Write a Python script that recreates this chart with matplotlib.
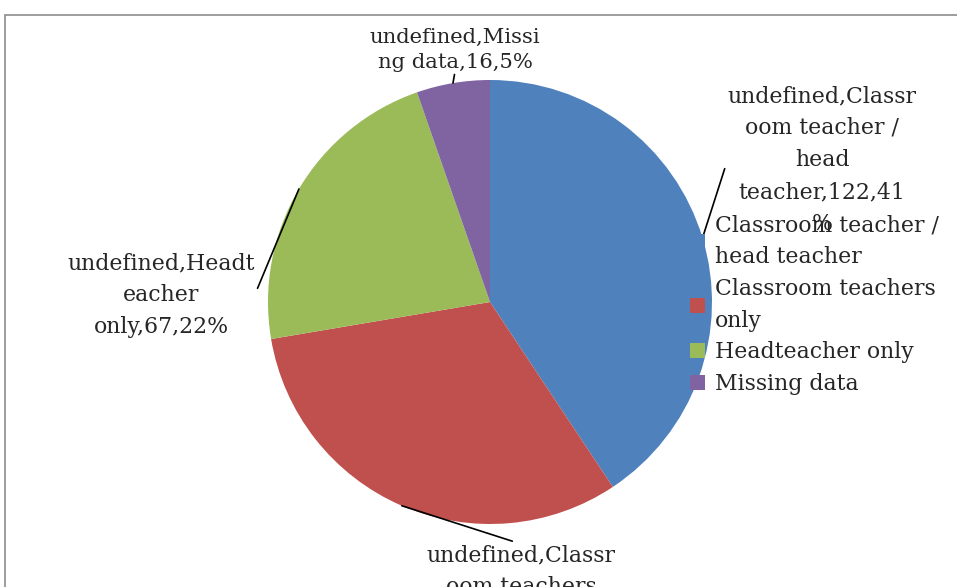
import matplotlib
matplotlib.use("Agg")
import numpy as np
import matplotlib.pyplot as plt
from matplotlib.patches import Rectangle

# Survey responses: who fills in the form
categories = ["Classroom teacher / head teacher", "Classroom teachers only",
              "Headteacher only", "Missing data"]
counts = [122, 95, 67, 16]
series_name = "undefined"
colors = ["#4F81BD", "#C0504D", "#9BBB59", "#8064A2"]

W, H = 957, 587
DPI = 100
FONT = "DejaVu Serif"
FS = 15.8
LS = 1.59

fig = plt.figure(figsize=(W / DPI, H / DPI), dpi=DPI)
fig.patch.set_facecolor("white")

# outer chart frame
fig.patches.append(Rectangle((5, -10), W + 20, H - 15 + 10, transform=None,
                             fill=False, edgecolor="#8C8C8C", linewidth=1.2))

# pie axes placed by pixel centre / radius
cx, cy, r = 490, 302, 222
ax = fig.add_axes([(cx - r) / W, (H - cy - r) / H, 2 * r / W, 2 * r / H])

wedges, _ = ax.pie(counts, colors=colors, startangle=90, counterclock=False,
                   radius=1.0, wedgeprops=dict(linewidth=0))
ax.set_xlim(-1, 1)
ax.set_ylim(-1, 1)
ax.set_aspect("equal")
ax.axis("off")

total = sum(counts)
pcts = [round(100 * v / total) for v in counts]


def wrap_at(text, cuts):
    parts, prev = [], 0
    for c in cuts:
        parts.append(text[prev:c])
        prev = c
    parts.append(text[prev:])
    return "\n".join(p.strip() for p in parts)


# label layout: line breaks, text centre (pixels from top-left), anchor on text box,
# font size, line spacing
layout = [
    ([16, 29, 34, 49], (822, 160), (0.0, 0.5), FS, LS),
    ([16, 28], (521, 587), (0.5, 1.0), FS, LS),
    ([15, 21], (161, 295), (1.0, 0.5), FS, LS),
    ([15], (455, 50), (0.5, 0.0), 15.2, 1.36),
]

for w, cat, v, p, (cuts, (tx, ty), rel, fs, ls) in zip(wedges, categories, counts, pcts, layout):
    label = f"{series_name},{cat},{v},{p}%"
    mid = np.deg2rad((w.theta1 + w.theta2) / 2)
    xy = (np.cos(mid), np.sin(mid))
    ax.annotate(wrap_at(label, cuts), xy=xy, xycoords="data",
                xytext=(tx, H - ty), textcoords="figure pixels",
                ha="center", va="center", fontsize=fs, family=FONT,
                color="#262626", linespacing=ls, annotation_clip=False,
                arrowprops=dict(arrowstyle="-", color="black", lw=1.2,
                                relpos=rel, shrinkA=0, shrinkB=0))

legend_labels = ["Classroom teacher /\nhead teacher", "Classroom teachers\nonly",
                 "Headteacher only", "Missing data"]
leg = fig.legend(wedges, legend_labels, loc="upper left",
                 bbox_to_anchor=(690 / W, 1 - 214 / H), frameon=False,
                 prop=dict(family=FONT, size=FS), handlelength=0.7,
                 handleheight=0.7, handletextpad=0.45, labelspacing=0.44,
                 borderpad=0, borderaxespad=0)
for t in leg.get_texts():
    t.set_linespacing(LS)
    t.set_color("#262626")

fig.savefig("out.png", dpi=DPI, facecolor="white")
